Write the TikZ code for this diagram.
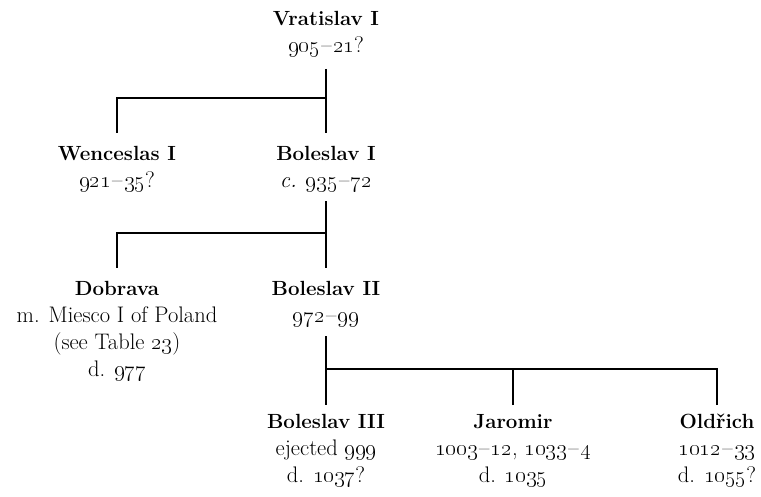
\RequirePackage{fix-cm}
\documentclass[tikz,border=0pt]{standalone}
\usetikzlibrary{calc}
\newcommand\osn[1]{\oldstylenums{#1}}
\newcommand\dsh{\kern1.5pt--\kern1.5pt}
\newcommand\nm[1]{{\fontsize{20.5}{27}\selectfont\bfseries #1}}
\tikzset{
  person/.style={align=center, inner sep=0pt, anchor=north, font=\fontsize{22.5}{27}\selectfont},
  link/.style={line width=1.1pt},
}
\begin{document}
\begin{tikzpicture}[x=1pt,y=-1pt]
\useasboundingbox (0,0) rectangle (761,497);
\node[person] (vrat) at (326,11) {\nm{Vratislav I}\\ \osn{905}\dsh\osn{21}?};
\node[person] (wen)  at (117,146) {\nm{Wenceslas I}\\ \osn{921}\dsh\osn{35}?};
\node[person] (bol1) at (326,146) {\nm{Boleslav I}\\ \textit{c.} \osn{935}\dsh\osn{72}};
\node[person] (dob)  at (117,281) {\nm{Dobrava}\\ m. Miesco I of Poland\\ (see Table \osn{23})\\ d. \osn{977}};
\node[person] (bol2) at (326,281) {\nm{Boleslav II}\\ \osn{972}\dsh\osn{99}};
\node[person] (bol3) at (326,414) {\nm{Boleslav III}\\ ejected \osn{999}\\ d. \osn{1037}?};
\node[person] (jar)  at (513,414) {\nm{Jaromir}\\ \osn{1003}\dsh\osn{12}, \osn{1033}\dsh\osn{4}\\ d. \osn{1035}};
\node[person] (old)  at (717,414) {\nm{Old\v{r}ich}\\ \osn{1012}\dsh\osn{33}\\ d. \osn{1055}?};
\coordinate (j1) at (326,98);
\coordinate (j2) at (326,233);
\coordinate (j3) at (326,369);
\draw[link] ([yshift=-12pt]vrat.south) -- ([yshift=13pt]bol1.north);
\draw[link] ([yshift=13pt]wen.north) |- (j1);
\draw[link] ([yshift=-9pt]bol1.south) -- ([yshift=13pt]bol2.north);
\draw[link] ([yshift=13pt]dob.north) |- (j2);
\draw[link] ([yshift=-9pt]bol2.south) -- ([yshift=9pt]bol3.north);
\draw[link] ([yshift=9pt]old.north) |- (j3);
\draw[link] ([yshift=9pt]jar.north) -- (jar.north |- j3);
\end{tikzpicture}
\end{document}
